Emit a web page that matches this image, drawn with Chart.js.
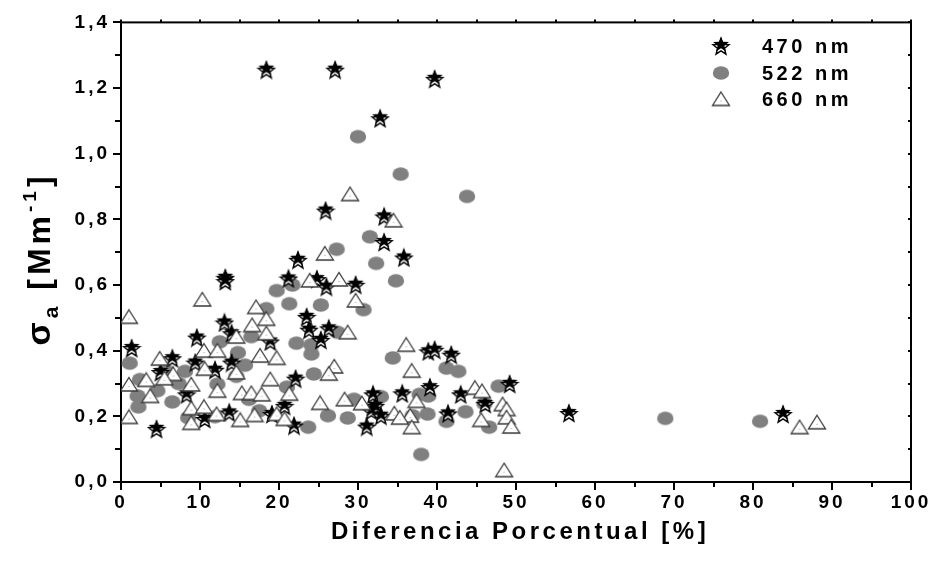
<!DOCTYPE html>
<html>
<head>
<meta charset="utf-8">
<title>Absorción vs diferencia porcentual</title>
<script src="https://cdn.jsdelivr.net/npm/chart.js@4.4.1/dist/chart.umd.min.js"></script>
<style>
  html, body { margin: 0; padding: 0; background: #fff; }
  #wrap { width: 940px; height: 561px; }
</style>
</head>
<body>
<div id="wrap"><canvas id="myChart" width="940" height="561"></canvas></div>
<script>
// 470 nm
const star470X = [18.4, 27.1, 39.7, 32.8, 25.9, 33.3, 33.3, 35.8, 22.4, 13.2, 13.2, 21.2, 24.8, 26.0, 29.7,
  23.5, 23.8, 26.3, 25.3, 13.1, 14.0, 9.6, 18.9, 1.35, 6.5, 9.4, 14.0, 11.9, 5.0, 22.1, 8.3, 20.7, 19.1,
  13.7, 10.6, 4.5, 21.9, 31.1, 31.9, 32.2, 31.7, 32.9, 35.6, 38.9, 39.7, 41.8, 39.1, 43.0, 41.4, 49.2,
  46.1, 56.7, 83.8];
const star470Y = [1.256, 1.256, 1.228, 1.108, 0.827, 0.809, 0.731, 0.684, 0.677, 0.622, 0.612, 0.62, 0.618, 0.595, 0.601,
  0.503, 0.464, 0.468, 0.433, 0.486, 0.453, 0.44, 0.428, 0.408, 0.377, 0.364, 0.364, 0.342, 0.335, 0.315, 0.267, 0.232, 0.207,
  0.212, 0.192, 0.162, 0.172, 0.169, 0.267, 0.232, 0.217, 0.202, 0.27, 0.398, 0.403, 0.388, 0.289, 0.267, 0.209, 0.299,
  0.238, 0.21, 0.207];

// 522 nm
const circ522X = [30.0, 35.4, 43.8, 31.5, 27.3, 32.3, 34.8, 19.7, 21.7, 21.3, 25.3, 30.7, 18.4, 16.5, 22.2,
  24.1, 27.4, 24.1, 14.8, 12.5, 34.4, 1.1, 24.4, 15.7, 14.6, 12.2, 7.3, 5.8, 8.1, 4.6, 2.4, 2.1, 2.2, 6.5,
  16.2, 21.0, 8.5, 11.9, 17.5, 23.7, 26.2, 28.7, 29.5, 32.9, 41.2, 42.7, 37.8, 38.9, 36.9, 38.8, 41.2,
  43.6, 46.0, 46.6, 47.8, 38.0, 68.9, 80.9];
const circ522Y = [1.052, 0.938, 0.87, 0.747, 0.709, 0.666, 0.613, 0.583, 0.6, 0.543, 0.539, 0.525, 0.528, 0.443, 0.423,
  0.418, 0.456, 0.39, 0.394, 0.427, 0.378, 0.362, 0.329, 0.356, 0.322, 0.298, 0.3, 0.337, 0.337, 0.278, 0.312, 0.262, 0.229, 0.244,
  0.252, 0.289, 0.196, 0.199, 0.217, 0.167, 0.202, 0.195, 0.252, 0.26, 0.347, 0.337, 0.267, 0.262, 0.202, 0.207, 0.185,
  0.214, 0.239, 0.167, 0.292, 0.084, 0.194, 0.185];

// 660 nm
const tri660X = [29.0, 34.5, 25.8, 1.0, 10.3, 23.9, 27.6, 29.7, 17.1, 18.4, 16.6, 18.4, 14.6, 28.7, 10.5, 12.2,
  4.9, 17.6, 19.7, 10.6, 14.6, 6.6, 5.5, 3.2, 18.9, 27.0, 26.3, 1.0, 8.9, 12.2, 15.3, 16.5, 3.7, 17.8, 21.3,
  25.2, 28.3, 30.5, 8.9, 10.5, 12.1, 16.9, 19.7, 20.7, 15.1, 8.9, 1.0, 34.6, 36.1, 36.8, 37.4, 36.6, 36.8,
  35.3, 44.8, 45.7, 48.3, 48.8, 48.8, 45.6, 49.4, 48.5, 85.9, 88.1];
const tri660Y = [0.877, 0.797, 0.696, 0.503, 0.556, 0.614, 0.617, 0.553, 0.533, 0.497, 0.478, 0.453, 0.443, 0.456, 0.4, 0.4,
  0.376, 0.385, 0.378, 0.345, 0.334, 0.329, 0.316, 0.311, 0.313, 0.352, 0.33, 0.297, 0.297, 0.278, 0.271, 0.271, 0.262, 0.267, 0.269,
  0.241, 0.252, 0.24, 0.225, 0.229, 0.207, 0.204, 0.207, 0.192, 0.189, 0.18, 0.198, 0.209, 0.418, 0.339, 0.247, 0.202, 0.167,
  0.196, 0.287, 0.277, 0.237, 0.222, 0.197, 0.189, 0.169, 0.036, 0.167, 0.182];

const seriesLabels = ['470 nm', '522 nm', '660 nm'];
const xTicks = [0, 10, 20, 30, 40, 50, 60, 70, 80, 90, 100];
const yTicks = [0, 0.2, 0.4, 0.6, 0.8, 1.0, 1.2, 1.4];

const BOLD = '"Liberation Sans", Arial, sans-serif';

function toPoints(xs, ys) {
  return xs.map((x, i) => ({ x: x, y: ys[i] }));
}

function starPath(ctx, cx, cy, r) {
  const inner = r * 0.42;
  ctx.beginPath();
  for (let i = 0; i < 10; i++) {
    const rad = i % 2 === 0 ? r : inner;
    const a = -Math.PI / 2 + i * Math.PI / 5;
    const px = cx + rad * Math.cos(a), py = cy + rad * Math.sin(a);
    if (i === 0) ctx.moveTo(px, py); else ctx.lineTo(px, py);
  }
  ctx.closePath();
}

// marker images
function makeStar() {
  const c = document.createElement('canvas');
  c.width = 20; c.height = 20;
  const g = c.getContext('2d');
  starPath(g, 10, 11.3, 8.4);
  g.fillStyle = '#fff'; g.fill();
  g.lineWidth = 1.4; g.strokeStyle = '#000'; g.stroke();
  starPath(g, 10, 8.6, 8.4);
  g.fillStyle = '#000'; g.fill();
  return c;
}

function makeDot() {
  const c = document.createElement('canvas');
  c.width = 18; c.height = 16;
  const g = c.getContext('2d');
  g.beginPath();
  g.ellipse(9, 8, 8.2, 6.8, 0, 0, Math.PI * 2);
  g.fillStyle = '#808080'; g.fill();
  return c;
}

function makeTriangle() {
  const c = document.createElement('canvas');
  c.width = 20; c.height = 17;
  const g = c.getContext('2d');
  g.beginPath();
  g.moveTo(10, 1.5); g.lineTo(18.5, 15); g.lineTo(1.5, 15); g.closePath();
  g.fillStyle = '#fff'; g.fill();
  g.lineWidth = 1.3; g.strokeStyle = '#3a3a3a'; g.stroke();
  g.fillStyle = '#999'; g.fillRect(9.5, 10, 1, 1);
  return c;
}

const starImg = makeStar();
const dotImg = makeDot();
const triImg = makeTriangle();

// box, inner/outer tick marks
const framePlugin = {
  id: 'frame',
  beforeDatasetsDraw(chart) {
    const { ctx, chartArea: a, scales: { x, y } } = chart;
    ctx.save();
    ctx.strokeStyle = '#000';
    ctx.lineWidth = 2;
    ctx.strokeRect(a.left, a.top, a.right - a.left, a.bottom - a.top);
    ctx.beginPath();
    for (let v = 0; v <= 100.001; v += 5) {
      const px = Math.round(x.getPixelForValue(v));
      const major = Math.abs(v % 10) < 0.01;
      ctx.moveTo(px, a.bottom); ctx.lineTo(px, a.bottom + (major ? 8 : 5));
      ctx.moveTo(px, a.top); ctx.lineTo(px, a.top - 3);
    }
    for (let i = 0; i <= 14; i++) {
      const py = Math.round(y.getPixelForValue(i / 10));
      const major = i % 2 === 0;
      ctx.moveTo(a.left, py); ctx.lineTo(a.left - (major ? 8 : 6), py);
      ctx.moveTo(a.right, py); ctx.lineTo(a.right - 3, py);
    }
    ctx.stroke();
    ctx.restore();
  }
};

// axis titles and legend
const textPlugin = {
  id: 'texts',
  beforeDraw(chart) {
    chart.ctx.letterSpacing = '3px';
  },
  afterDraw(chart) {
    const { ctx, chartArea: a } = chart;
    ctx.save();
    ctx.fillStyle = '#000';
    ctx.textBaseline = 'alphabetic';

    // x title
    ctx.letterSpacing = '3.5px';
    ctx.font = 'bold 24px ' + BOLD;
    ctx.textAlign = 'center';
    ctx.fillText('Diferencia Porcentual [%]', (a.left + a.right) / 2 + 4, 539);

    // y title
    ctx.textAlign = 'left';
    ctx.translate(50, 259);
    ctx.rotate(-Math.PI / 2);
    const parts = [
      { t: '\u03C3', f: 'bold 34px ', dy: 0 },
      { t: 'a', f: 'bold 21px ', dy: 8 },
      { t: ' [Mm', f: 'bold 32px ', dy: 0 },
      { t: '-1', f: 'bold 19px ', dy: -14 },
      { t: ']', f: 'bold 32px ', dy: 0 }
    ];
    ctx.letterSpacing = '4px';
    let total = 0;
    parts.forEach(p => { ctx.font = p.f + BOLD; p.w = ctx.measureText(p.t).width; total += p.w; });
    let cx = -total / 2;
    parts.forEach(p => {
      ctx.font = p.f + BOLD;
      ctx.fillText(p.t, cx, p.dy);
      cx += p.w;
    });
    ctx.restore();

    // legend
    ctx.save();
    const imgs = [starImg, dotImg, triImg];
    const rows = [46, 73, 99];
    ctx.font = 'bold 20px ' + BOLD;
    ctx.letterSpacing = '3.5px';
    ctx.fillStyle = '#000';
    ctx.textBaseline = 'middle';
    seriesLabels.forEach((lab, i) => {
      const im = imgs[i];
      ctx.drawImage(im, 721 - im.width / 2, rows[i] - im.height / 2);
      ctx.fillText(lab, 762, rows[i] + 1);
    });
    ctx.restore();
    ctx.letterSpacing = '0px';
  }
};

const tickFont = { family: BOLD, size: 19, weight: 'bold' };

const myChart = new Chart(document.getElementById('myChart').getContext('2d'), {
  type: 'scatter',
  data: {
    datasets: [
      {
        label: seriesLabels[2],
        data: toPoints(tri660X, tri660Y),
        pointStyle: triImg,
        order: 0
      },
      {
        label: seriesLabels[0],
        data: toPoints(star470X, star470Y),
        pointStyle: starImg,
        order: 1
      },
      {
        label: seriesLabels[1],
        data: toPoints(circ522X, circ522Y),
        pointStyle: dotImg,
        order: 2
      }
    ]
  },
  options: {
    responsive: false,
    animation: false,
    devicePixelRatio: 1,
    layout: { padding: { top: 17, right: 29, left: 0, bottom: 0 } },
    plugins: {
      legend: { display: false },
      tooltip: { enabled: false }
    },
    scales: {
      x: {
        type: 'linear',
        min: 0,
        max: 100,
        afterFit(scale) { scale.height = 79; },
        afterBuildTicks(scale) { scale.ticks = xTicks.map(v => ({ value: v })); },
        grid: { display: false, drawTicks: false },
        border: { display: false },
        ticks: {
          autoSkip: false,
          maxRotation: 0,
          padding: 9,
          color: '#000',
          font: tickFont,
          callback: v => String(v)
        }
      },
      y: {
        type: 'linear',
        min: 0,
        max: 1.4,
        afterFit(scale) { scale.width = 121; },
        afterBuildTicks(scale) { scale.ticks = yTicks.map(v => ({ value: v })); },
        grid: { display: false, drawTicks: false },
        border: { display: false },
        ticks: {
          autoSkip: false,
          padding: 11,
          color: '#000',
          font: tickFont,
          callback: v => Number(v).toFixed(1).replace('.', ',')
        }
      }
    }
  },
  plugins: [framePlugin, textPlugin]
});
</script>
</body>
</html>
